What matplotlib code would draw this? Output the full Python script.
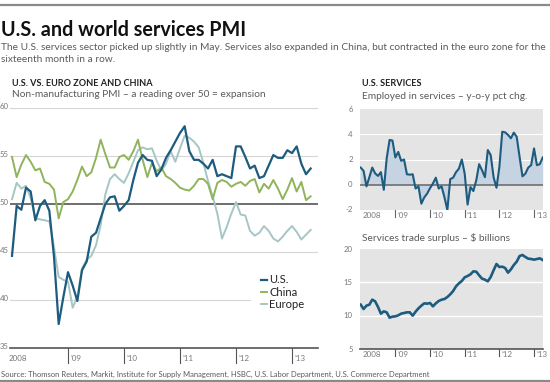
import matplotlib
matplotlib.use("Agg")
import matplotlib.pyplot as plt
from matplotlib.lines import Line2D
import numpy as np

plt.rcParams['font.family'] = ['Lato', 'DejaVu Sans']

# ---------------- data ----------------
us_pmi = [44.6, 49.8, 49.4, 51.7, 51.3, 48.3, 49.8, 50.4, 49.3, 44.5, 37.5, 40.3,
          42.9, 41.5, 39.9, 43.1, 44.0, 46.6, 47.0, 48.5, 50.0, 50.7, 50.8, 49.3,
          49.8, 50.4, 52.5, 54.3, 55.1, 54.6, 54.5, 52.9, 53.6, 54.8, 55.6, 56.5,
          57.4, 58.1, 55.5, 54.6, 54.6, 54.2, 53.7, 54.6, 52.9, 53.1, 52.9, 52.7,
          56.0, 56.0, 54.9, 53.7, 54.0, 52.7, 52.9, 54.0, 55.1, 54.8, 54.8, 55.6,
          55.3, 56.0, 54.2, 53.1, 53.7]
china_pmi = [54.9, 52.8, 54.1, 55.1, 54.4, 53.5, 53.7, 52.3, 52.1, 51.5, 48.5, 50.2,
             50.5, 51.3, 52.5, 53.9, 52.9, 53.3, 54.8, 56.7, 55.2, 53.8, 53.8, 54.9,
             55.1, 54.6, 55.5, 56.7, 54.6, 52.8, 54.3, 53.4, 53.8, 52.9, 52.6, 52.2,
             51.7, 51.5, 51.4, 51.9, 52.6, 52.6, 52.1, 50.5, 52.2, 52.5, 52.3, 51.8,
             52.1, 52.3, 51.9, 52.4, 52.6, 51.2, 52.1, 51.6, 52.5, 51.6, 50.5, 51.5,
             52.7, 51.3, 52.3, 50.4, 50.8]
europe_pmi = [50.5, 52.2, 51.6, 51.9, 50.6, 48.5, 48.4, 48.3, 48.2, 45.5, 42.4, 42.1,
              41.9, 39.2, 40.3, 43.3, 44.2, 44.6, 45.7, 47.8, 51.0, 52.6, 53.1, 52.6,
              52.2, 53.2, 54.4, 55.6, 55.9, 55.7, 55.8, 54.5, 53.5, 54.2, 55.5, 54.4,
              55.8, 57.1, 56.9, 56.5, 55.9, 54.3, 52.4, 50.8, 49.0, 46.4, 47.6, 49.0,
              50.2, 48.9, 48.8, 47.2, 46.7, 47.0, 47.7, 47.2, 46.4, 46.1, 46.6, 47.2,
              47.7, 47.1, 46.3, 46.8, 47.3]
employment_chg = [1.36, 1.1, -0.13, 0.6, 1.36, 0.9, 0.7, 1.0, -0.4, 2.1, 3.55, 3.5,
                  2.16, 2.6, 1.9, 2.0, 0.83, 0.8, 0.83, -0.3, -0.13, -1.5, -1.0, -0.7,
                  -0.27, 0.1, 0.56, -0.3, -0.13, -1.0, -2.0, 0.45, 0.56, 1.0, 1.28, 2.0,
                  0.88, -1.57, -0.19, -0.5, 0.35, 1.63, 1.15, 0.6, 2.75, 2.35, 0.6, -0.24,
                  1.4, 4.2, 4.15, 3.95, 3.68, 4.13, 3.8, 2.2, 0.67, 0.88, 1.36, 1.55,
                  2.88, 1.55, 1.63, 2.16]
trade_surplus = [11.65, 11.0, 11.5, 11.65, 12.4, 12.15, 11.3, 10.3, 10.65, 10.5, 9.7, 9.85,
                 9.9, 10.05, 10.3, 10.4, 10.5, 10.5, 10.0, 10.6, 11.1, 11.5, 11.85, 11.8,
                 11.9, 11.4, 11.85, 12.2, 12.4, 12.5, 12.8, 13.2, 13.7, 14.4, 14.85, 15.2,
                 15.75, 15.95, 16.2, 16.65, 16.6, 16.05, 15.55, 15.4, 15.15, 15.8, 16.8, 17.75,
                 17.3, 17.35, 17.15, 16.45, 16.95, 17.6, 18.1, 18.95, 19.1, 18.8, 18.55, 18.5,
                 18.4, 18.5, 18.6, 18.35]
series_names = ["U.S.", "China", "Europe"]
year_ticks = [2008, 2009, 2010, 2011, 2012, 2013]
year_labels = ["2008", "\u201909", "\u201910", "\u201911", "\u201912", "\u201913"]
pmi_ticks = [35, 40, 45, 50, 55, 60]
emp_ticks = [-2, 0, 2, 4, 6]
trade_ticks = [5, 10, 15, 20]

# ---------------- style ----------------
W, H = 550, 382
C_US = "#1d5b7f"
C_CN = "#8fb45a"
C_EU = "#a6c6c6"
C_TXT = "#222222"
C_SUB = "#5a5a5a"
C_TICK = "#777777"
C_BG = "#e4e4e4"
C_FILL = "#c5d3e2"

fig = plt.figure(figsize=(W / 100, H / 100), dpi=100)
fig.patch.set_facecolor("white")


def px_rect(x0, y0, x1, y1):
    return [x0 / W, 1 - y1 / H, (x1 - x0) / W, (y1 - y0) / H]


def ftext(x, y, s, **kw):
    fig.text(x / W, 1 - y / H, s, **kw)


def months(n):
    return 2008 + np.arange(n) / 12.0


# header lines
fig.add_artist(Line2D([0, 1], [1 - 4.5 / H] * 2, color="#8a8a8a", lw=1.6))
fig.add_artist(Line2D([0, 1], [1 - 380.5 / H] * 2, color="#8a8a8a", lw=1.6))

ftext(1, 30, "U.S. and world services PMI", fontsize=14.2, fontweight="bold",
      color="#111111", va="center", ha="left")
ftext(1, 47, "The U.S. services sector picked up slightly in May. Services also expanded in China, "
      "but contracted in the euro zone for the", fontsize=7.3, color=C_SUB, va="center")
ftext(1, 60, "sixteenth month in a row.", fontsize=7.3, color=C_SUB, va="center")

ftext(12, 84, "U.S. VS. EURO ZONE AND CHINA", fontsize=6.6, fontweight="bold",
      color=C_TXT, va="center")
ftext(362, 84, "U.S. SERVICES", fontsize=6.6, fontweight="bold", color=C_TXT, va="center")

ftext(1, 374, "Source: Thomson Reuters, Markit, Institute for Supply Management, HSBC, "
      "U.S. Labor Department, U.S. Commerce Department", fontsize=5.5, color=C_SUB, va="center")

# ---------------- left chart ----------------
ax = fig.add_axes(px_rect(10, 108, 318, 348))
x_pmi = months(len(us_pmi))
xl0 = 2008 - 2 / 56.0
xl1 = 2008 + 306 / 56.0
ax.set_xlim(xl0, xl1)
ax.set_ylim(35, 60)
for s in ax.spines.values():
    s.set_visible(False)
ax.set_yticks([])
ax.set_xticks([])

for v in [45, 55, 60]:
    ax.axhline(v, color="#d6d6d6", lw=0.8, zorder=1)
ax.plot([xl0, 2008 + 238 / 56.0], [40, 40], color="#d6d6d6", lw=0.8, zorder=1)
ax.axhline(50, color="#555555", lw=1.2, zorder=2)
ax.axhline(35, color="#555555", lw=1.2, zorder=2, clip_on=False)

ax.plot(x_pmi, europe_pmi, color=C_EU, lw=1.4, zorder=3, label=series_names[2])
ax.plot(x_pmi, china_pmi, color=C_CN, lw=1.4, zorder=4, label=series_names[1])
ax.plot(x_pmi, us_pmi, color=C_US, lw=1.6, zorder=5, label=series_names[0])

for v in pmi_ticks:
    ax.text(-0.003, v + 0.15, str(v), transform=ax.get_yaxis_transform(),
            ha="right", va="center", fontsize=5.6, color=C_TICK)
for yr, lab in zip(year_ticks, year_labels):
    if yr > 2008:
        ax.plot([yr, yr], [35, 33.4], color="#555555", lw=0.8, clip_on=False)
        ax.text(yr + 0.04, 34.3, lab, ha="left", va="top", fontsize=5.8, color=C_TICK)
    else:
        ax.text(yr - 0.07, 34.3, lab, ha="left", va="top", fontsize=5.8, color=C_TICK)

ax.text(0.005, 61.4, "Non-manufacturing PMI \u2013 a reading over 50 = expansion",
        fontsize=7.3, color=C_SUB, va="center", ha="left",
        transform=ax.get_yaxis_transform())

h, l = ax.get_legend_handles_labels()
order = [2, 1, 0]
leg = ax.legend([h[i] for i in order], [l[i] for i in order], loc="upper left",
                bbox_to_anchor=(0.8, 0.325), frameon=False, fontsize=8.0,
                handlelength=0.55, handletextpad=0.2, labelspacing=0.1,
                borderaxespad=0)
for t in leg.get_texts():
    t.set_color(C_TXT)

# ---------------- right top chart ----------------
px_per_yr = (542.7 - 360.7) / (63 / 12.0)
rx0 = 2008 - 0.7 / px_per_yr
rx1 = 2008 + (543 - 360.7) / px_per_yr

ax2 = fig.add_axes(px_rect(360, 109, 543, 210))
x_emp = months(len(employment_chg))
ax2.set_xlim(rx0, rx1)
ax2.set_ylim(-2, 6)
ax2.set_facecolor(C_BG)
for s in ax2.spines.values():
    s.set_visible(False)
ax2.set_xticks([])
ax2.set_yticks([])
for v in [2, 4]:
    ax2.axhline(v, color="white", lw=0.8, zorder=1)
ax2.fill_between(x_emp, employment_chg, 0, color=C_FILL, zorder=2, lw=0)
ax2.axhline(0, color="#666666", lw=1.1, zorder=3)
ax2.plot(x_emp, employment_chg, color=C_US, lw=1.5, zorder=4)
for v in emp_ticks:
    ax2.text(-0.04, v, str(v), transform=ax2.get_yaxis_transform(),
             ha="right", va="center", fontsize=5.6, color=C_TICK)
ax2.text(0.01, 7.0, "Employed in services \u2013 y-o-y pct chg.",
         fontsize=7.3, color=C_SUB, va="center", ha="left",
         transform=ax2.get_yaxis_transform())
for yr, lab in zip(year_ticks, year_labels):
    if yr > 2008:
        ax2.plot([yr, yr], [-2, -2.55], color="#666666", lw=0.8, clip_on=False)
        ax2.text(yr + 0.06, -2.15, lab, ha="left", va="top", fontsize=5.8, color=C_TICK)
    else:
        ax2.text(yr + 0.04, -2.15, lab, ha="left", va="top", fontsize=5.8, color=C_TICK)

# ---------------- right bottom chart ----------------
ax3 = fig.add_axes(px_rect(360, 249, 543, 349))
x_tr = months(len(trade_surplus))
ax3.set_xlim(rx0, rx1)
ax3.set_ylim(5, 20)
ax3.set_facecolor(C_BG)
for s in ax3.spines.values():
    s.set_visible(False)
ax3.set_xticks([])
ax3.set_yticks([])
for v in [10, 15]:
    ax3.axhline(v, color="white", lw=1.0, zorder=1)
ax3.axhline(5, color="#555555", lw=1.2, zorder=3, clip_on=False)
ax3.plot(x_tr, trade_surplus, color=C_US, lw=1.9, zorder=4)
for v in trade_ticks:
    ax3.text(-0.04, v, str(v), transform=ax3.get_yaxis_transform(),
             ha="right", va="center", fontsize=5.6, color=C_TICK)
ax3.text(0.01, 21.6, "Services trade surplus \u2013 $ billions",
         fontsize=7.3, color=C_SUB, va="center", ha="left",
         transform=ax3.get_yaxis_transform())
for yr, lab in zip(year_ticks, year_labels):
    if yr > 2008:
        ax3.plot([yr, yr], [5, 4.0], color="#555555", lw=0.8, clip_on=False)
        ax3.text(yr + 0.06, 4.7, lab, ha="left", va="top", fontsize=5.8, color=C_TICK)
    else:
        ax3.text(yr + 0.04, 4.7, lab, ha="left", va="top", fontsize=5.8, color=C_TICK)

fig.savefig("out.png", dpi=100, facecolor="white")
